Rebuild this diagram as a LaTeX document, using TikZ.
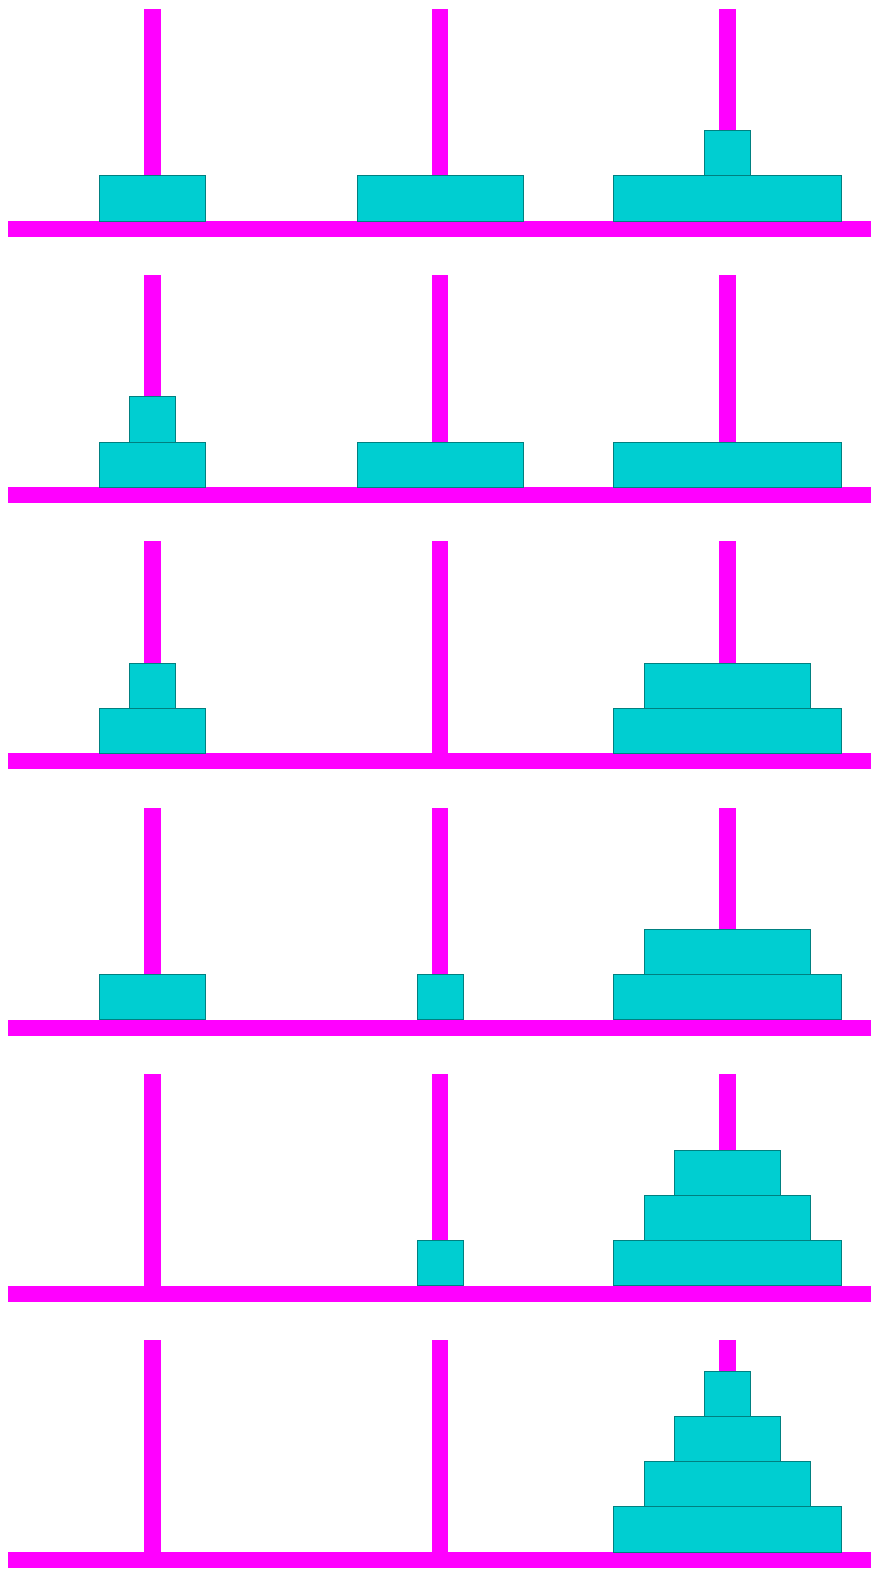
\documentclass[tikz,border=0pt]{standalone}
\definecolor{rodmagenta}{RGB}{255,0,255}
\definecolor{discfill}{RGB}{0,206,209}
\definecolor{discedge}{RGB}{0,128,128}
\usepackage{tikz}

\begin{document}
\begin{tikzpicture}[scale=0.5,
  rod/.style={fill=rodmagenta},
  disc/.style={fill=discfill, draw=discedge, line width=0.6pt}]
  %% Frame (keeps the margins)
  \useasboundingbox (-10.11,-1.39) rectangle (47.77,102.79);

  %% Row 1
  \begin{scope}[shift={(0,88.15)}]
    \fill[rod] (-9.56,-1.06) rectangle (47.58,0);
    \fill[rod] (-0.55,0) rectangle (0.55,14.04);
    \fill[rod] (18.48,0) rectangle (19.58,14.04);
    \fill[rod] (37.51,0) rectangle (38.61,14.04);
    \filldraw[disc] (-3.51,0) rectangle (3.51,3);
    \filldraw[disc] (13.53,0) rectangle (24.53,3);
    \filldraw[disc] (30.54,0) rectangle (45.58,3);
    \filldraw[disc] (36.54,3) rectangle (39.58,6);
  \end{scope}

  %% Row 2
  \begin{scope}[shift={(0,70.52)}]
    \fill[rod] (-9.56,-1.06) rectangle (47.58,0);
    \fill[rod] (-0.55,0) rectangle (0.55,14.04);
    \fill[rod] (18.48,0) rectangle (19.58,14.04);
    \fill[rod] (37.51,0) rectangle (38.61,14.04);
    \filldraw[disc] (-3.51,0) rectangle (3.51,3);
    \filldraw[disc] (-1.52,3) rectangle (1.52,6);
    \filldraw[disc] (13.53,0) rectangle (24.53,3);
    \filldraw[disc] (30.54,0) rectangle (45.58,3);
  \end{scope}

  %% Row 3
  \begin{scope}[shift={(0,52.89)}]
    \fill[rod] (-9.56,-1.06) rectangle (47.58,0);
    \fill[rod] (-0.55,0) rectangle (0.55,14.04);
    \fill[rod] (18.48,0) rectangle (19.58,14.04);
    \fill[rod] (37.51,0) rectangle (38.61,14.04);
    \filldraw[disc] (-3.51,0) rectangle (3.51,3);
    \filldraw[disc] (-1.52,3) rectangle (1.52,6);
    \filldraw[disc] (30.54,0) rectangle (45.58,3);
    \filldraw[disc] (32.56,3) rectangle (43.56,6);
  \end{scope}

  %% Row 4
  \begin{scope}[shift={(0,35.26)}]
    \fill[rod] (-9.56,-1.06) rectangle (47.58,0);
    \fill[rod] (-0.55,0) rectangle (0.55,14.04);
    \fill[rod] (18.48,0) rectangle (19.58,14.04);
    \fill[rod] (37.51,0) rectangle (38.61,14.04);
    \filldraw[disc] (-3.51,0) rectangle (3.51,3);
    \filldraw[disc] (17.51,0) rectangle (20.55,3);
    \filldraw[disc] (30.54,0) rectangle (45.58,3);
    \filldraw[disc] (32.56,3) rectangle (43.56,6);
  \end{scope}

  %% Row 5
  \begin{scope}[shift={(0,17.63)}]
    \fill[rod] (-9.56,-1.06) rectangle (47.58,0);
    \fill[rod] (-0.55,0) rectangle (0.55,14.04);
    \fill[rod] (18.48,0) rectangle (19.58,14.04);
    \fill[rod] (37.51,0) rectangle (38.61,14.04);
    \filldraw[disc] (17.51,0) rectangle (20.55,3);
    \filldraw[disc] (30.54,0) rectangle (45.58,3);
    \filldraw[disc] (32.56,3) rectangle (43.56,6);
    \filldraw[disc] (34.55,6) rectangle (41.57,9);
  \end{scope}

  %% Row 6 (all discs moved)
  \fill[rod] (-9.56,-1.06) rectangle (47.58,0);
  \fill[rod] (-0.55,0) rectangle (0.55,14.04);
  \fill[rod] (18.48,0) rectangle (19.58,14.04);
  \fill[rod] (37.51,0) rectangle (38.61,14.04);
  \filldraw[disc] (30.54,0) rectangle (45.58,3);
  \filldraw[disc] (32.56,3) rectangle (43.56,6);
  \filldraw[disc] (34.55,6) rectangle (41.57,9);
  \filldraw[disc] (36.54,9) rectangle (39.58,12);
\end{tikzpicture}
\end{document}
